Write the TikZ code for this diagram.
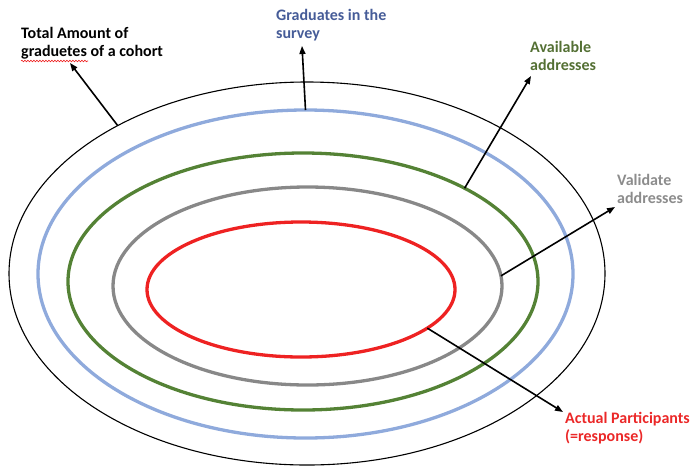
\documentclass[tikz,border=0pt]{standalone}
\usepackage{fontspec}
\setmainfont{Carlito}
\usetikzlibrary{shapes.geometric,arrows.meta,decorations.pathmorphing}
\definecolor{ringblue}{RGB}{143,170,220}
\definecolor{ringgreen}{RGB}{84,130,53}
\definecolor{ringgray}{RGB}{136,136,136}
\definecolor{ringred}{RGB}{238,34,34}
\definecolor{txtblue}{RGB}{70,92,152}
\definecolor{txtgreen}{RGB}{84,112,52}
\definecolor{txtgray}{RGB}{140,140,140}
\definecolor{txtred}{RGB}{235,40,40}
\tikzset{
  ring/.style={ellipse, draw, inner sep=0pt, outer sep=0pt},
  lbl/.style={anchor=north west, inner sep=0pt, align=left, font=\bfseries\fontsize{16}{18}\selectfont},
  pointer/.style={draw=black, line width=1.6pt, -{Triangle[length=8pt,width=6pt]}}
}
\begin{document}
\begin{tikzpicture}[x=1pt,y=-1pt]
\useasboundingbox (0,0) rectangle (692,469);
% rings
\node[ring, line width=1.1pt, minimum width=596pt, minimum height=383pt] (outer) at (307,273.5) {};
\node[ring, draw=ringblue, line width=3.3pt, minimum width=535pt, minimum height=328pt] (blue) at (305.5,274) {};
\node[ring, draw=ringgreen, line width=3.3pt, minimum width=470pt, minimum height=257pt] (green) at (303,281.5) {};
\node[ring, draw=ringgray, line width=3.3pt, minimum width=389pt, minimum height=198pt] (gray) at (307.5,286) {};
\node[ring, draw=ringred, line width=3.3pt, minimum width=308pt, minimum height=135pt] (red) at (301,289.5) {};
% labels
\node[lbl] (ltotal) at (21,27) {Total Amount of\\graduetes of a cohort};
\node[lbl, text=txtblue] (lgrad) at (276,9) {Graduates in the\\survey};
\node[lbl, text=txtgreen] (lavail) at (530,41) {Available\\addresses};
\node[lbl, text=txtgray] (lvalid) at (617,174) {Validate\\addresses};
\node[lbl, text=txtred] (lact) at (565,412) {Actual Participants\\(=response)};
% spell-check squiggle
\draw[ringred, line width=0.6pt, decorate, decoration={snake, amplitude=0.8pt, segment length=3pt}] (21,61) -- (88,61);
% arrow tips
\coordinate (ttotal) at (70,63);
\coordinate (tgrad) at (302,46);
\coordinate (tavail) at (531,76);
\coordinate (tvalid) at (615,207);
\coordinate (tact) at (563,412);
% pointers
\draw[pointer] (outer.142.6) -- (ttotal);
\draw[pointer] (blue.90) -- (tgrad);
\draw[pointer] (green.30.1) -- (tavail);
\draw[pointer] (gray.3.8) -- (tvalid);
\draw[pointer] (red.-17.3) -- (tact);
\end{tikzpicture}
\end{document}
